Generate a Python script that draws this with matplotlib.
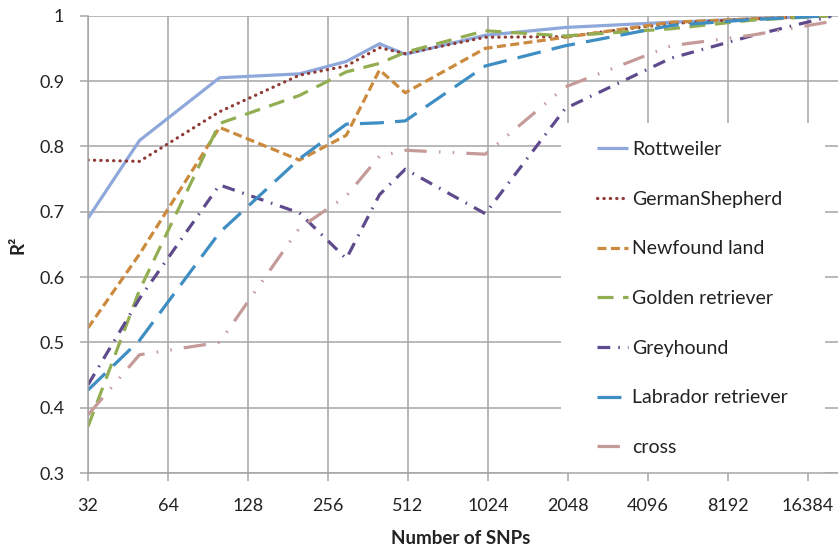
import matplotlib
matplotlib.use("Agg")
import matplotlib.pyplot as plt
from matplotlib.patches import Rectangle
from matplotlib.ticker import FixedLocator, NullLocator

plt.rcParams['font.family'] = ['Lato', 'DejaVu Sans']

# ---- data ----
snps = [32, 50, 100, 200, 300, 400, 500, 1000, 2000, 5000, 10000, 20000]
rottweiler = [0.690, 0.809, 0.905, 0.911, 0.930, 0.957, 0.941, 0.970, 0.982, 0.990, 0.995, 1.000]
german_shepherd = [0.779, 0.777, 0.853, 0.909, 0.923, 0.951, 0.942, 0.967, 0.968, 0.988, 0.995, 1.000]
newfoundland = [0.522, 0.635, 0.829, 0.779, 0.817, 0.917, 0.882, 0.950, 0.967, 0.990, 0.995, 1.000]
golden = [0.371, 0.580, 0.835, 0.878, 0.914, 0.927, 0.944, 0.977, 0.969, 0.980, 0.993, 1.000]
greyhound = [0.435, 0.567, 0.741, 0.698, 0.628, 0.726, 0.765, 0.697, 0.858, 0.935, 0.969, 0.999]
labrador = [0.427, 0.503, 0.668, 0.781, 0.834, 0.836, 0.839, 0.923, 0.954, 0.985, 0.994, 1.000]
cross = [0.389, 0.481, 0.500, 0.675, 0.724, 0.785, 0.794, 0.788, 0.891, 0.954, 0.970, 0.991]

series_names = ["Rottweiler", "GermanShepherd", "Newfound land", "Golden retriever",
                "Greyhound", "Labrador retriever", "cross"]
series_values = [rottweiler, german_shepherd, newfoundland, golden, greyhound, labrador, cross]

x_ticks = [32, 64, 128, 256, 512, 1024, 2048, 4096, 8192, 16384]
x_tick_labels = ["32", "64", "128", "256", "512", "1024", "2048", "4096", "8192", "16384"]
y_ticks = [0.3, 0.4, 0.5, 0.6, 0.7, 0.8, 0.9, 1.0]
y_tick_labels = ["0.3", "0.4", "0.5", "0.6", "0.7", "0.8", "0.9", "1"]

# ---- styles ----
colors = ["#8FA8DC", "#8E3B36", "#CB8A3E", "#93AE52", "#5E4A8C", "#3E8EC4", "#C49B99"]
styles = ["-", (0, (0.1, 1.9)), (0, (2.8, 1.4)), (0, (5, 3)), (0, (4, 2.5, 0.5, 2.5)),
          (0, (7.5, 3.5)), (0, (7, 3.8, 0.5, 3.8, 0.5, 3.8))]
caps = ["butt", "round", "butt", "butt", "butt", "butt", "butt"]

W, H = 838, 551
fig = plt.figure(figsize=(W / 100, H / 100), dpi=100)
ax_left, ax_right, ax_top, ax_bottom = 88, 888, 15.7, 473
ax = fig.add_axes([ax_left / W, (H - ax_bottom) / H, (ax_right - ax_left) / W, (ax_bottom - ax_top) / H])

grid_col = "#A5A5A5"
ax.set_xscale("log", base=2)
ax.set_xlim(32, 32768)
ax.set_ylim(0.3, 1.0)
ax.set_axisbelow(True)
ax.grid(True, color=grid_col, linewidth=1.1, zorder=0)

ax.xaxis.set_major_locator(FixedLocator(x_ticks))
ax.xaxis.set_minor_locator(NullLocator())
ax.set_xticklabels(x_tick_labels)
ax.set_yticks(y_ticks)
ax.set_yticklabels(y_tick_labels)

for s in ["top", "right"]:
    ax.spines[s].set_visible(False)
for s in ["left", "bottom"]:
    ax.spines[s].set_color(grid_col)
    ax.spines[s].set_linewidth(1.1)

ax.tick_params(axis="both", colors=grid_col, labelcolor="#222222", length=6, width=1.1,
               labelsize=13)
ax.tick_params(axis="y", pad=11)
ax.tick_params(axis="x", pad=12)

# white background of legend region hides gridlines
ax.add_patch(Rectangle((0.591, 0.0), 0.33, 0.765, transform=ax.transAxes,
                       facecolor="white", edgecolor="none", zorder=1))

handles = []
for name, vals, c, ls, cap in zip(series_names, series_values, colors, styles, caps):
    h, = ax.plot(snps, vals, color=c, linestyle=ls, linewidth=2.3, label=name,
                 dash_capstyle=cap, solid_capstyle="butt", zorder=2, clip_on=True)
    handles.append(h)

leg = fig.legend(handles=handles, loc="upper left",
                 bbox_to_anchor=(597 / W, 1 - 141 / H),
                 frameon=False, fontsize=14, handlelength=1.6, handletextpad=0.22,
                 labelspacing=1.68, borderpad=0, borderaxespad=0)
for t in leg.get_texts():
    t.set_color("#222222")

ax.set_xlabel("Number of SNPs", fontsize=13.5, fontweight="bold", color="#222222")
ax.xaxis.label.set_va("center")
ax.xaxis.set_label_coords((461 - ax_left) / (ax_right - ax_left), (ax_bottom - 539) / (ax_bottom - ax_top))
ax.set_ylabel("R²", fontsize=13.5, fontweight="bold", color="#222222")
ax.yaxis.label.set_va("center")
ax.yaxis.set_label_coords((18 - ax_left) / (ax_right - ax_left), 0.5)

fig.savefig("out.png", dpi=100)
